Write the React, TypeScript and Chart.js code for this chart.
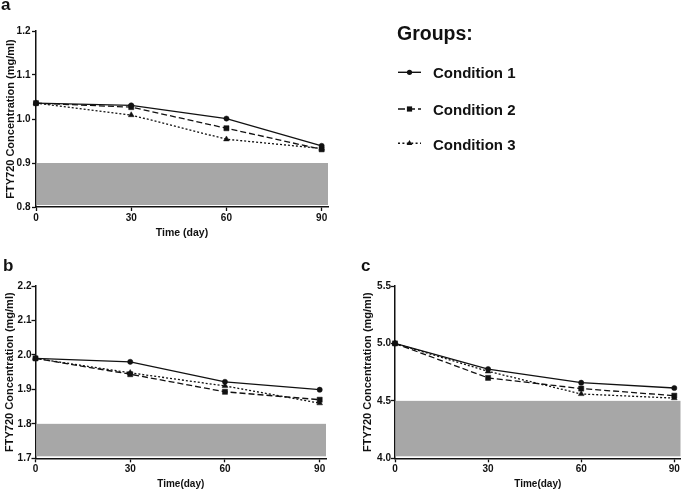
import React, { useEffect, useRef } from "react";
import { Chart, registerables } from "chart.js";

Chart.register(...registerables);

const FONT = '"Liberation Sans", Arial, Helvetica, sans-serif';
Chart.defaults.font.family = FONT;

// ---------- data ----------
const days = [0, 30, 60, 90];
const xTicks = [0, 30, 60, 90];
const xMax = 92;
const seriesNames = ["Condition 1", "Condition 2", "Condition 3"];

const aCond1 = [1.036, 1.031, 1.001, 0.939];
const aCond2 = [1.036, 1.027, 0.979, 0.931];
const aCond3 = [1.036, 1.009, 0.954, 0.933];
const aYTicks = [0.8, 0.9, 1.0, 1.1, 1.2];
const aBand = [0.8, 0.9];

const bCond1 = [1.99, 1.98, 1.922, 1.899];
const bCond2 = [1.99, 1.944, 1.893, 1.87];
const bCond3 = [1.99, 1.948, 1.91, 1.86];
const bYTicks = [1.7, 1.8, 1.9, 2.0, 2.1, 2.2];
const bBand = [1.7, 1.8];

const cCond1 = [5.0, 4.777, 4.658, 4.612];
const cCond2 = [5.0, 4.7, 4.607, 4.545];
const cCond3 = [5.0, 4.757, 4.56, 4.524];
const cYTicks = [4.0, 4.5, 5.0, 5.5];
const cBand = [4.0, 4.5];

const yTitle = "FTY720 Concentration (mg/ml)";

// ---------- styles ----------
const INK = "#111";
const seriesStyles = [
  { dash: [] as number[], point: "circle", r: 2.6 },
  { dash: [6, 3], point: "rect", r: 3.6 },
  { dash: [2, 2], point: "triangle", r: 3.3 },
];

const bandPlugin = {
  id: "band",
  beforeDatasetsDraw(chart: any, _args: any, opts: any) {
    const { ctx, scales } = chart;
    const x = scales.x;
    const y = scales.y;
    const [lo, hi] = opts.range;
    const top = y.getPixelForValue(hi);
    const bottom = y.getPixelForValue(lo) - opts.gap;
    const left = x.getPixelForValue(0) + 0.75;
    const right = x.getPixelForValue(x.max);
    ctx.save();
    ctx.fillStyle = opts.color;
    ctx.fillRect(left, top, right - left, bottom - top);
    ctx.restore();
  },
};

type PanelCfg = {
  series: number[][];
  yTicks: number[];
  band: number[];
  xTitle: string;
  xTitleSize: number;
  pad: { left: number; top: number; right: number; bottom: number };
  yW: number;
  xH: number;
  yTitlePad: number;
  xTitlePad: number;
  xTickPad: number;
  yTickPad: number;
};

const panels: PanelCfg[] = [
  {
    series: [aCond1, aCond2, aCond3],
    yTicks: aYTicks,
    band: aBand,
    xTitle: "Time (day)",
    xTitleSize: 10.5,
    pad: { left: 0, top: 31, right: 357, bottom: 248 },
    yW: 36,
    xH: 36,
    yTitlePad: 3.9,
    xTitlePad: 3.7,
    xTickPad: 1,
    yTickPad: 1.5,
  },
  {
    series: [bCond1, bCond2, bCond3],
    yTicks: bYTicks,
    band: bBand,
    xTitle: "Time(day)",
    xTitleSize: 10,
    pad: { left: 0, top: 286, right: 359, bottom: 0 },
    yW: 35.5,
    xH: 32.7,
    yTitlePad: 2.9,
    xTitlePad: 0.7,
    xTickPad: 1,
    yTickPad: 0,
  },
  {
    series: [cCond1, cCond2, cCond3],
    yTicks: cYTicks,
    band: cBand,
    xTitle: "Time(day)",
    xTitleSize: 10,
    pad: { left: 350, top: 286, right: 2.5, bottom: 0 },
    yW: 45,
    xH: 32.7,
    yTitlePad: 11.2,
    xTitlePad: 0.7,
    xTickPad: 1,
    yTickPad: 0,
  },
];

function buildConfig(p: PanelCfg): any {
  const datasets = p.series.map((vals, i) => ({
    label: seriesNames[i],
    data: days.map((d, j) => ({ x: d, y: vals[j] })),
    borderColor: INK,
    backgroundColor: INK,
    borderWidth: 1.3,
    borderDash: seriesStyles[i].dash,
    pointStyle: seriesStyles[i].point,
    pointRadius: seriesStyles[i].r,
    pointBorderWidth: 0.5,
    pointBackgroundColor: INK,
    pointBorderColor: INK,
    tension: 0,
    clip: false,
  }));
  const yMin = p.yTicks[0];
  const yMax = p.yTicks[p.yTicks.length - 1];
  return {
    type: "line",
    data: { datasets },
    plugins: [bandPlugin],
    options: {
      responsive: false,
      animation: false,
      events: [],
      layout: { padding: p.pad },
      plugins: {
        legend: { display: false },
        tooltip: { enabled: false },
        band: { range: p.band, color: "#a7a7a7", gap: 2 },
      },
      scales: {
        x: {
          type: "linear",
          min: 0,
          max: xMax,
          afterFit: (s: any) => {
            s.height = p.xH;
          },
          afterBuildTicks: (s: any) => {
            s.ticks = xTicks.map((v) => ({ value: v }));
          },
          grid: {
            drawOnChartArea: false,
            drawTicks: true,
            tickLength: 4,
            tickColor: INK,
            tickWidth: 1.3,
          },
          border: { display: true, color: INK, width: 1.5 },
          ticks: {
            color: INK,
            font: { size: 10, weight: "bold" },
            padding: p.xTickPad,
            maxRotation: 0,
            autoSkip: false,
            callback: (v: any) => String(v),
          },
          title: {
            display: true,
            text: p.xTitle,
            color: INK,
            font: { size: p.xTitleSize, weight: "bold" },
            padding: { top: 0, bottom: p.xTitlePad },
          },
        },
        y: {
          type: "linear",
          min: yMin,
          max: yMax,
          afterFit: (s: any) => {
            s.width = p.yW;
          },
          afterBuildTicks: (s: any) => {
            s.ticks = p.yTicks.map((v) => ({ value: v }));
          },
          grid: {
            drawOnChartArea: false,
            drawTicks: true,
            tickLength: 4,
            tickColor: INK,
            tickWidth: 1.3,
          },
          border: { display: true, color: INK, width: 1.5 },
          ticks: {
            color: INK,
            font: { size: 10, weight: "bold" },
            padding: p.yTickPad,
            autoSkip: false,
            callback: (v: any) => Number(v).toFixed(1),
          },
          title: {
            display: true,
            text: yTitle,
            color: INK,
            font: { size: 11, weight: "bold" },
            padding: { top: p.yTitlePad, bottom: 0 },
          },
        },
      },
    },
  };
}

function Panel({ cfg }: { cfg: PanelCfg }) {
  const ref = useRef<HTMLCanvasElement | null>(null);
  useEffect(() => {
    if (!ref.current) return;
    const chart = new Chart(ref.current, buildConfig(cfg));
    return () => chart.destroy();
  }, [cfg]);
  return (
    <canvas
      ref={ref}
      width={685}
      height={491}
      style={{ position: "absolute", left: 0, top: 0, width: 685, height: 491 }}
    />
  );
}

const txt = (size: number, left: number, top: number): React.CSSProperties => ({
  position: "absolute",
  left,
  top,
  fontFamily: FONT,
  fontWeight: "bold",
  fontSize: size,
  lineHeight: 1,
  whiteSpace: "nowrap",
  color: INK,
});

function LegendMarker({ i, y }: { i: number; y: number }) {
  const cx = 19.5;
  const st = seriesStyles[i];
  const dash = st.dash.length ? (i === 1 ? "7,3" : "2,2.4") : undefined;
  let marker: React.ReactNode;
  if (st.point === "circle") marker = <circle cx={cx} cy={y} r={2.6} fill={INK} />;
  else if (st.point === "rect")
    marker = <rect x={cx - 2.6} y={y - 2.6} width={5.2} height={5.2} fill={INK} />;
  else
    marker = (
      <polygon
        points={`${cx},${y - 3.3} ${cx - 2.9},${y + 1.7} ${cx + 2.9},${y + 1.7}`}
        fill={INK}
      />
    );
  return (
    <g>
      <line x1={8} y1={y} x2={31} y2={y} stroke={INK} strokeWidth={1.4} strokeDasharray={dash} />
      {marker}
    </g>
  );
}

export default function App() {
  const rowBaselines = [78, 114.7, 149.7];
  const rowLines = [72.3, 109, 143.3];
  return (
    <div
      style={{
        position: "fixed",
        left: 0,
        top: 0,
        width: 685,
        height: 491,
        background: "#fff",
        overflow: "hidden",
      }}
    >
      {panels.map((p, i) => (
        <Panel key={i} cfg={p} />
      ))}
      <div style={txt(17, 1, -4.4)}>a</div>
      <div style={txt(17, 3, 257.3)}>b</div>
      <div style={txt(17, 361, 257.3)}>c</div>
      <div style={txt(19.5, 397, 23.5)}>Groups:</div>
      {seriesNames.map((n, i) => (
        <div key={n} style={txt(15, 433, rowBaselines[i] - 12.7)}>
          {n}
        </div>
      ))}
      <svg
        width={40}
        height={100}
        style={{ position: "absolute", left: 390, top: 60 }}
        viewBox="0 0 40 100"
      >
        {rowLines.map((yy, i) => (
          <LegendMarker key={i} i={i} y={yy - 60} />
        ))}
      </svg>
    </div>
  );
}
